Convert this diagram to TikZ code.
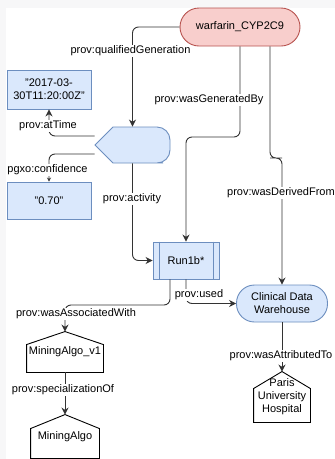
\documentclass[tikz,border=0pt]{standalone}
\usepackage{fontspec}
\setmainfont{Liberation Sans}
\usetikzlibrary{arrows.meta}
\definecolor{redfill}{HTML}{F8CECC}
\definecolor{redline}{HTML}{B85450}
\definecolor{bluefill}{HTML}{DAE8FC}
\definecolor{blueline}{HTML}{6C8EBF}
\definecolor{edgegray}{HTML}{333333}
\definecolor{pagegray}{HTML}{F7F7F8}
\tikzset{
  every node/.style={font=\fontsize{11pt}{13pt}\selectfont, inner sep=0pt, align=center},
  entity/.style={draw=redline, fill=redfill, rounded corners=19pt, minimum width=120pt, minimum height=38pt},
  literal/.style={draw=blueline, fill=bluefill, minimum width=84pt, minimum height=38pt},
  activity/.style={draw=blueline, fill=bluefill, minimum width=66pt, minimum height=37pt},
  store/.style={draw=blueline, fill=bluefill, rounded corners=18pt, minimum width=91pt, minimum height=37pt},
  agent/.style={minimum width=76pt, minimum height=40pt},
  link/.style={draw=edgegray, rounded corners=6pt, -{Stealth[length=7pt,width=7pt]}},
  smalltip/.style={-{Stealth[length=4pt,width=4pt]}},
  lbl/.style={fill=white, inner sep=1pt}
}
\begin{document}
\begin{tikzpicture}[x=1pt, y=-1pt, line width=0.9pt]
\useasboundingbox (0,0) rectangle (335,459);
\fill [pagegray] (0,0) rectangle (335,459);
\fill [white] (6,8) rectangle (335,459);
\node [entity] (warfarin) at (240,27) {warfarin\_CYP2C9};
\draw [draw=blueline, fill=bluefill] (113,127) -- (150,127) [rounded corners=13pt] -- (170,127) -- (170,163) -- (150,163) [sharp corners] -- (113,163) -- (95,145) -- cycle;
\node [minimum width=75pt, minimum height=36pt] (qgen) at (132.5,145) {};
\node [literal, minimum height=39pt] (time) at (49,89.5) {"2017-03-\\30T11:20:00Z"};
\node [literal, minimum height=37pt] (conf) at (49,200.5) {"0.70"};
\node [activity] (run) at (186,260.5) {Run1b*};
\draw [blueline] ([xshift=6.5pt]run.north west) -- ([xshift=6.5pt]run.south west);
\draw [blueline] ([xshift=-6.5pt]run.north east) -- ([xshift=-6.5pt]run.south east);
\node [store] (cdw) at (282,303.5) {Clinical Data\\Warehouse};
\node [agent] (v1) at (65,352) {MiningAlgo\_v1};
\draw (v1.south west) -- (v1.south east) -- ([yshift=-13pt]v1.north east) -- (v1.north) -- ([yshift=-13pt]v1.north west) -- cycle;
\node [agent, minimum width=68pt, minimum height=43pt] (algo) at (65,436.5) {MiningAlgo};
\draw (algo.south west) -- (algo.south east) -- ([yshift=-14pt]algo.north east) -- (algo.north) -- ([yshift=-14pt]algo.north west) -- cycle;
\node [agent, minimum width=56pt, minimum height=50pt] (paris) at (282,397) {Paris\\University\\Hospital};
\draw (paris.south west) -- (paris.south east) -- ([yshift=-17pt]paris.north east) -- (paris.north) -- ([yshift=-17pt]paris.north west) -- cycle;
\coordinate (genturn) at (213,137);
\coordinate (derivturn) at (276,158);
\coordinate (assocturn) at (117,305);
\draw [link] (warfarin.west) -| (qgen.north);
\draw [link] (warfarin.south) |- (genturn) -| (run.north);
\draw [link] ([xshift=30pt]warfarin.south) |- (derivturn) -| (cdw.north);
\draw [link] ([yshift=9pt]qgen.west) -| (time.south);
\draw [link, smalltip] ([yshift=-9pt]qgen.west) -| (conf.north);
\draw [link] (qgen.south) |- (run.west);
\draw [link] (run.south) |- (cdw.west);
\draw [link] ([xshift=-16pt]run.south) |- (assocturn) -| (v1.north);
\draw [link] (cdw.south) -- (paris.north);
\draw [link] (v1.south) -- (algo.north);
\node [lbl] (lblqgen) at (130.5,51) {prov:qualifiedGeneration};
\node [lbl] (lblgen) at (209,100) {prov:wasGeneratedBy};
\node [lbl] (lblderiv) at (281,193) {prov:wasDerivedFrom};
\node [lbl] (lbltime) at (48,126) {prov:atTime};
\node [lbl] (lblconf) at (47.5,170) {pgxo:confidence};
\node [lbl] (lblact) at (132,199) {prov:activity};
\node [lbl] (lblused) at (199,295) {prov:used};
\node [lbl] (lblassoc) at (76,314) {prov:wasAssociatedWith};
\node [lbl] (lblattr) at (281,356) {prov:wasAttributedTo};
\node [lbl] (lblspec) at (63,390) {prov:specializationOf};
\end{tikzpicture}
\end{document}
